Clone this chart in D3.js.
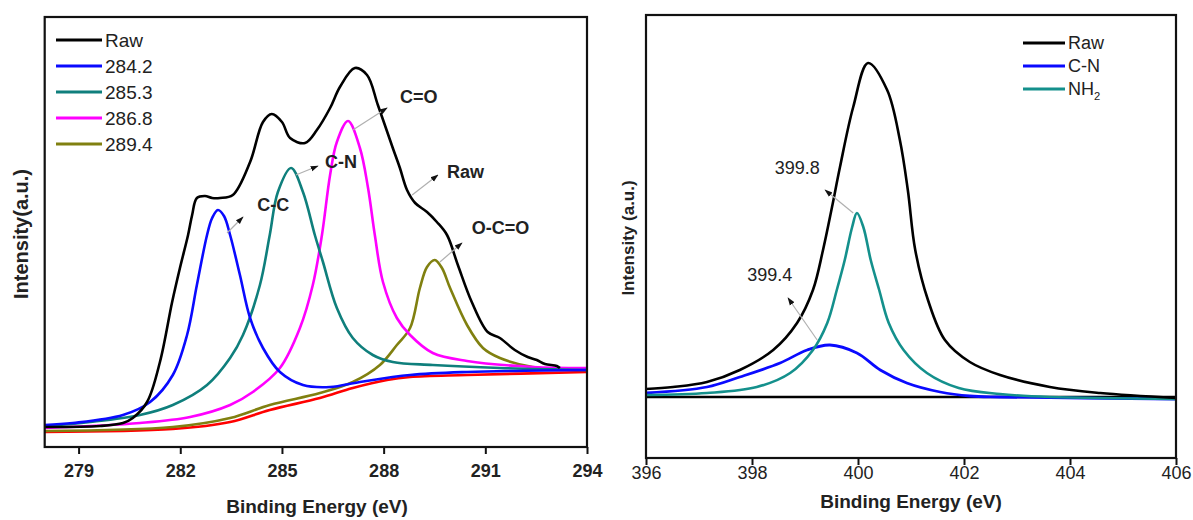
<!DOCTYPE html>
<html>
<head>
<meta charset="utf-8">
<script src="https://cdn.jsdelivr.net/npm/d3@7"></script>
<style>
body { margin: 0; background: #fff; }
svg text { font-family: "Liberation Sans", Arial, sans-serif; }
</style>
</head>
<body>
<svg id="chart" width="1193" height="520"></svg>
<script>
// ---- C 1s : [binding energy (eV), intensity (a.u.)] ----
const c1sRaw = [[278.0,1000],[279.63,1050],[280.31,1200],[280.60,1450],[281.02,2250],[281.40,4250],[281.76,7250],
  [281.99,8950],[282.23,10600],[282.35,11600],[282.49,12450],[282.73,12550],[282.94,12450],[283.17,12450],
  [283.55,12600],[284.06,14250],[284.44,16250],[284.70,16650],[285.00,16250],[285.24,15450],[285.68,15200],
  [286.03,15850],[286.42,16950],[286.71,18000],[287.15,18950],[287.51,18600],[287.83,17100],[288.27,14950],
  [288.48,13950],[288.69,12850],[288.93,12200],[289.28,11750],[289.57,11250],[289.87,10600],[290.19,9100],
  [290.60,7250],[291.07,5750],[291.43,5450],[291.87,4850],[292.25,4500],[292.52,4350],[292.76,4150],
  [293.11,4050],[293.20,3950]];
const c1s2842 = [[278.0,1100],[278.83,1200],[280.31,1600],[281.11,2250],[281.78,3600],[282.20,5600],[282.49,8100],
  [282.79,10600],[282.94,11450],[283.11,11850],[283.29,11550],[283.47,10600],[283.76,8600],[284.06,6450],
  [284.44,4950],[284.94,3750],[285.62,3100],[286.42,3000],[287.30,3250],[288.78,3600],[290.46,3750],[294.0,3850]];
const c1s2853 = [[278.0,1050],[279.34,1250],[280.81,1600],[281.78,2100],[282.79,3100],[283.47,4450],[283.85,5600],
  [284.35,8100],[284.64,10600],[284.88,12750],[285.27,13950],[285.62,12750],[285.97,10600],[286.21,9250],
  [286.62,6950],[287.09,5450],[287.68,4600],[288.27,4250],[289.45,4100],[291.43,3950],[294.0,3850]];
const c1s2868 = [[278.0,950],[280.81,1200],[282.29,1500],[283.47,2100],[284.14,2750],[284.94,3950],[285.53,5950],
  [285.91,8100],[286.18,10600],[286.42,13600],[286.62,15250],[286.95,16300],[287.30,14950],[287.54,12950],
  [287.74,10600],[287.98,8250],[288.39,6450],[288.78,5600],[289.45,4700],[290.46,4300],[292.40,4000],[294.0,3950]];
const c1s2894 = [[278.0,800],[281.78,1000],[283.47,1450],[284.64,2100],[286.12,2700],[287.09,3250],[287.89,4100],
  [288.39,5100],[288.78,5950],[289.07,7950],[289.28,9000],[289.51,9350],[289.72,8950],[289.96,7950],
  [290.46,6100],[290.93,4950],[291.43,4450],[292.40,4000],[294.0,3850]];
const c1sBackground = [[278.0,750],[281.78,900],[283.47,1250],[284.64,1850],[286.12,2450],[287.09,2950],
  [288.10,3350],[288.78,3500],[290.46,3600],[294.0,3750]];

const c1sTicks = [279, 282, 285, 288, 291, 294];
const c1sLegend = ["Raw", "284.2", "285.3", "286.8", "289.4"];
// label, text position [eV, a.u.], arrow from, arrow to
const c1sNotes = [
  ["C-C",   [284.27,12100], [283.38,10700], [283.85,11500]],
  ["C-N",   [286.27,14250], [285.41,13600], [286.06,14050]],
  ["C=O",   [288.48,17500], [287.09,15850], [288.10,16950]],
  ["Raw",   [289.87,13750], [288.84,12600], [289.60,13600]],
  ["O-C=O", [290.60,10950], [289.66,9250],  [290.31,10200]]
];

// ---- N 1s ----
const n1sRaw = [[396.0,800],[396.51,1000],[397.15,1500],[397.77,2700],[398.40,4700],[398.85,7400],[399.15,10700],
  [399.34,14700],[399.51,19000],[399.66,23000],[399.91,29000],[400.19,33400],[400.55,30700],[400.79,25700],
  [400.94,20700],[401.08,14700],[401.32,9700],[401.64,5700],[402.11,3500],[402.68,2200],[403.62,1000],
  [404.57,400],[406.0,-100]];
const n1sNH2 = [[396.0,200],[397.15,400],[398.09,1000],[398.72,2400],[399.15,4700],[399.42,7400],[399.60,10700],
  [399.75,13700],[399.89,17000],[399.98,18400],[400.10,17000],[400.24,13700],[400.40,10700],[400.58,7400],
  [400.86,4700],[401.30,2400],[401.90,900],[402.68,300],[403.62,0],[406.0,-200]];
const n1sCN = [[396.0,400],[397.15,1000],[397.77,2000],[398.53,3400],[399.04,4700],[399.47,5200],[399.98,4400],
  [400.42,2700],[400.92,1400],[401.55,500],[402.11,100],[402.68,0],[406.0,-200]];
const n1sBaseline = [[396, 0], [406, 0]];

const n1sTicks = [396, 398, 400, 402, 404, 406];
const n1sLegend = ["Raw", "C-N", "NH2"];
const n1sNotes = [
  ["399.8", [398.43,22900], [399.91,18400], [399.38,20700]],
  ["399.4", [397.91,12200], [399.23,5700],  [398.68,9900]]
];

let svg = d3.select("#chart");

svg.append("defs").append("marker")
  .attr("id", "arrow")
  .attr("viewBox", "0 0 10 10")
  .attr("refX", 9).attr("refY", 5)
  .attr("markerWidth", 8).attr("markerHeight", 8)
  .attr("markerUnits", "userSpaceOnUse")
  .attr("orient", "auto")
  .append("path").attr("d", "M0,1.5L10,5L0,8.5z").attr("fill", "#111");

let make_panel = (p) => {
  let x = d3.scaleLinear().domain(p.xDomain).range([p.left, p.right]);
  let y = d3.scaleLinear().domain(p.yDomain).range([p.bottom, p.top]);
  let g = svg.append("g");

  g.append("clipPath").attr("id", p.id + "-clip")
    .append("rect").attr("x", p.left).attr("y", p.top)
    .attr("width", p.right - p.left).attr("height", p.bottom - p.top);

  let ax = g.append("g")
    .attr("transform", `translate(0,${p.bottom})`)
    .call(d3.axisBottom(x).tickValues(p.ticks).tickSize(7).tickSizeOuter(0)
      .tickPadding(p.tickPad).tickFormat(d3.format("d")));
  ax.select(".domain").remove();
  ax.selectAll(".tick line").attr("stroke", "#111").attr("stroke-width", 2);
  ax.selectAll(".tick text")
    .attr("font-size", 18)
    .attr("font-weight", p.tickBold ? "bold" : "normal")
    .attr("fill", "#222")
    .style("font-family", '"Liberation Sans", Arial, sans-serif');

  g.append("text")
    .attr("x", p.xTitle[0]).attr("y", p.xTitle[1])
    .attr("text-anchor", "middle")
    .attr("font-size", 19).attr("font-weight", "bold").attr("fill", "#222")
    .text("Binding Energy (eV)");

  g.append("text")
    .attr("transform", `translate(${p.yTitle[0]},${p.yTitle[1]}) rotate(-90)`)
    .attr("text-anchor", "middle").attr("dy", "0.35em")
    .attr("font-size", p.yTitleSize).attr("font-weight", "bold").attr("fill", "#222")
    .text(p.yTitleText);

  return {g, x, y};
}

let draw_lines = (panel, id, series) => {
  let line = d3.line()
    .x(d => panel.x(d[0]))
    .y(d => panel.y(d[1]))
    .curve(d3.curveCatmullRom.alpha(0.5));
  let lg = panel.g.append("g").attr("clip-path", `url(#${id}-clip)`);
  series.forEach(s => {
    lg.append("path")
      .datum(s.data)
      .attr("d", line)
      .attr("fill", "none")
      .attr("stroke", s.color)
      .attr("stroke-width", s.width || 2.6)
      .attr("stroke-linejoin", "round");
  });
}

let draw_frame = (p) => {
  svg.append("rect")
    .attr("x", p.left).attr("y", p.top)
    .attr("width", p.right - p.left).attr("height", p.bottom - p.top)
    .attr("fill", "none").attr("stroke", "#111").attr("stroke-width", 2.2);
}

let draw_notes = (panel, notes, bold) => {
  notes.forEach(n => {
    panel.g.append("line")
      .attr("x1", panel.x(n[2][0])).attr("y1", panel.y(n[2][1]))
      .attr("x2", panel.x(n[3][0])).attr("y2", panel.y(n[3][1]))
      .attr("stroke", "#b0b0b0").attr("stroke-width", 1.2)
      .attr("marker-end", "url(#arrow)");
    panel.g.append("text")
      .attr("x", panel.x(n[1][0])).attr("y", panel.y(n[1][1]))
      .attr("dy", "0.35em")
      .attr("font-size", 18)
      .attr("font-weight", bold ? "bold" : "normal")
      .attr("fill", "#222")
      .text(n[0]);
  });
}

let draw_legend = (panel, names, colors, x0, x1, y0, step, size) => {
  names.forEach((name, i) => {
    let yy = y0 + i * step;
    panel.g.append("line")
      .attr("x1", x0).attr("x2", x1).attr("y1", yy).attr("y2", yy)
      .attr("stroke", colors[i]).attr("stroke-width", 3);
    let t = panel.g.append("text")
      .attr("x", x1 + 3).attr("y", yy).attr("dy", "0.35em")
      .attr("font-size", size).attr("fill", "#222");
    if (name === "NH2") {
      t.text("NH");
      t.append("tspan").attr("font-size", size * 0.62).attr("dy", "0.45em").text("2");
    } else {
      t.text(name);
    }
  });
}

// ---- left panel: C 1s ----
const leftP = {
  id: "c1s", left: 44.7, right: 587, top: 17, bottom: 447,
  xDomain: [278, 294], yDomain: [0, 21500], ticks: c1sTicks, tickPad: 10, tickBold: true,
  xTitle: [317, 513], yTitle: [21, 234], yTitleSize: 20, yTitleText: "Intensity(a.u.)"
};
let left = make_panel(leftP);
draw_lines(left, "c1s", [
  {data: c1sBackground, color: "#ff0000"},
  {data: c1s2894, color: "#808010"},
  {data: c1s2868, color: "#ff00ff"},
  {data: c1s2853, color: "#0f7f7c"},
  {data: c1s2842, color: "#0a0aff"},
  {data: c1sRaw, color: "#000000"}
]);
draw_notes(left, c1sNotes, true);
draw_legend(left, c1sLegend, ["#000000", "#0a0aff", "#0f7f7c", "#ff00ff", "#808010"], 56, 102, 40, 26, 19);
draw_frame(leftP);

// ---- right panel: N 1s ----
const rightP = {
  id: "n1s", left: 646, right: 1176, top: 15, bottom: 458,
  xDomain: [396, 406], yDomain: [-6100, 38200], ticks: n1sTicks, tickPad: 1, tickBold: false,
  xTitle: [911, 508], yTitle: [628, 238], yTitleSize: 17, yTitleText: "Intensity (a.u.)"
};
let right = make_panel(rightP);
draw_lines(right, "n1s", [
  {data: n1sBaseline, color: "#000000"},
  {data: n1sCN, color: "#0a0aff", width: 2.8},
  {data: n1sNH2, color: "#14908c"},
  {data: n1sRaw, color: "#000000"}
]);
draw_notes(right, n1sNotes, false);
draw_legend(right, n1sLegend, ["#000000", "#0a0aff", "#14908c"], 1023, 1065, 43, 23, 18);
draw_frame(rightP);
</script>
</body>
</html>
